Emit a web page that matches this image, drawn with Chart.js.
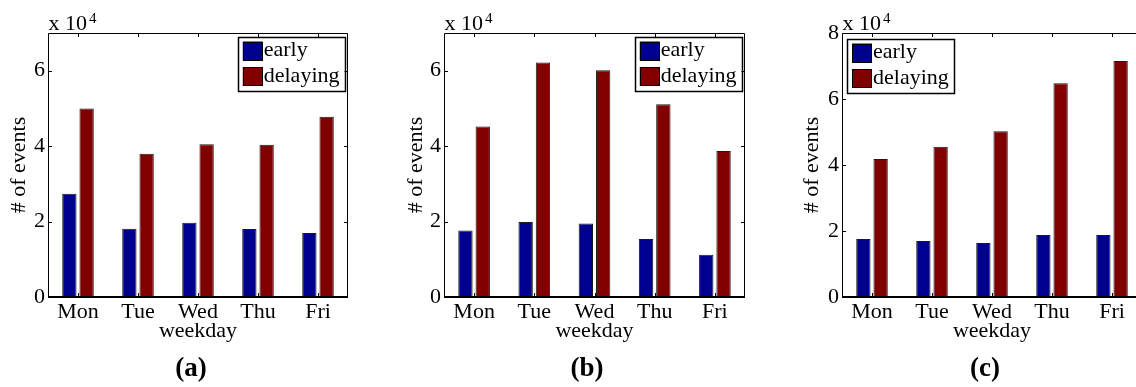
<!DOCTYPE html>
<html>
<head>
<meta charset="utf-8">
<script src="https://cdn.jsdelivr.net/npm/chart.js@4/dist/chart.umd.min.js"></script>
<style>
  html, body { margin: 0; padding: 0; background: #fff; }
  #wrap { position: relative; width: 1136px; height: 387px; overflow: hidden; }
  canvas { position: absolute; top: 0; }
  .cap { position: absolute; top: 352px; width: 100px; text-align: center;
         font: bold 27px 'Liberation Serif', 'Times New Roman', serif; line-height: 30px; }
</style>
</head>
<body>
<div id="wrap">
  <canvas id="chartA" width="380" height="387" style="left:0px"></canvas>
  <canvas id="chartB" width="380" height="387" style="left:380px"></canvas>
  <canvas id="chartC" width="400" height="387" style="left:756px"></canvas>
  <div class="cap" style="left:141px">(a)</div>
  <div class="cap" style="left:537px">(b)</div>
  <div class="cap" style="left:935px">(c)</div>
</div>
<script>
// weekday categories
const weekdays = ['Mon', 'Tue', 'Wed', 'Thu', 'Fri'];

// number of events per weekday
const earlyA = [27400, 18100, 19700, 18000, 17000];
const delayingA = [50000, 38000, 40500, 40400, 47800];
const earlyB = [17600, 19900, 19500, 15400, 11200];
const delayingB = [45200, 62200, 60100, 51100, 38700];
const earlyC = [17600, 17000, 16400, 18800, 18800];
const delayingC = [41800, 45500, 50200, 64800, 71500];

// y axis ticks (values), shown in units of 10^4
const yTicksAB = [0, 20000, 40000, 60000];
const yTicksC = [0, 20000, 40000, 60000, 80000];

const FONT = "'Liberation Serif', 'Times New Roman', serif";

// frame, inward ticks, exponent label and boxed legend like matlab
const matlabAxes = {
    id: 'matlabAxes',
    afterDraw(chart, args, opts) {
        const ctx = chart.ctx;
        const a = chart.chartArea;
        const xs = chart.scales.x;
        const ys = chart.scales.y;
        ctx.save();
        ctx.strokeStyle = '#000';
        ctx.lineWidth = 1;
        const L = Math.round(a.left) + 0.5;
        const T = Math.round(a.top) + 0.5;
        const R = Math.round(a.right) - 0.5;
        const B = Math.round(a.bottom);
        ctx.beginPath();
        ctx.moveTo(L, B);
        ctx.lineTo(L, T);
        ctx.lineTo(R, T);
        ctx.lineTo(R, B);
        ctx.stroke();
        ctx.lineWidth = 2;
        ctx.beginPath();
        ctx.moveTo(L - 0.5, B);
        ctx.lineTo(R + 0.5, B);
        ctx.stroke();

        // ticks pointing inside
        ctx.lineWidth = 1;
        ctx.beginPath();
        xs.ticks.forEach((t, i) => {
            const px = Math.round(xs.getPixelForTick(i)) + 0.5;
            ctx.moveTo(px, B);
            ctx.lineTo(px, B - 4);
            ctx.moveTo(px, T);
            ctx.lineTo(px, T + 3.5);
        });
        ys.ticks.forEach(t => {
            const py = Math.round(ys.getPixelForValue(t.value)) + 0.5;
            ctx.moveTo(L, py);
            ctx.lineTo(L + 3.5, py);
            ctx.moveTo(R, py);
            ctx.lineTo(R - 3.5, py);
        });
        ctx.stroke();

        // x 10^4
        ctx.fillStyle = '#000';
        ctx.textAlign = 'left';
        ctx.textBaseline = 'alphabetic';
        ctx.font = '22px ' + FONT;
        const base = 'x 10';
        ctx.fillText(base, a.left + 0.5, a.top - 3);
        const w = ctx.measureText(base).width;
        ctx.font = '15px ' + FONT;
        ctx.fillText('4', a.left + 0.5 + w + 2, a.top - 10.5);

        // legend
        ctx.font = '22px ' + FONT;
        const sets = chart.data.datasets;
        let textW = 0;
        sets.forEach(ds => { textW = Math.max(textW, ctx.measureText(ds.label).width); });
        const boxW = 5 + 20 + 1 + textW + 5;
        const boxH = 54;
        const bx = opts.corner === 'left' ? a.left + 5 : a.right - 3.5 - boxW;
        const by = a.top + opts.top;
        ctx.fillStyle = '#fff';
        ctx.fillRect(bx, by, boxW, boxH);
        ctx.lineWidth = 1.5;
        ctx.strokeRect(Math.round(bx) + 0.5, Math.round(by) + 0.5, Math.round(boxW), boxH);
        ctx.lineWidth = 1;
        sets.forEach((ds, i) => {
            const sy = by + 4.5 + i * 25.5;
            ctx.fillStyle = ds.backgroundColor;
            ctx.fillRect(bx + 5, sy, 20, 19);
            ctx.strokeStyle = '#000';
            ctx.strokeRect(Math.round(bx + 5) + 0.5, Math.round(sy) + 0.5, 19, 18);
            ctx.fillStyle = '#000';
            ctx.textBaseline = 'middle';
            ctx.fillText(ds.label, bx + 26, sy + 9);
        });
        ctx.restore();
    }
};

function makePanel(id, early, delaying, yMax, yTicks, axisW, padRight, titlePad, corner, legendTop) {
    const ctx = document.getElementById(id).getContext('2d');
    new Chart(ctx, {
        type: 'bar',
        data: {
            labels: weekdays,
            datasets: [{
                label: 'early',
                data: early,
                backgroundColor: '#00008f',
                borderColor: '#1a1a1a',
                borderWidth: 1,
                categoryPercentage: 0.575,
                barPercentage: 0.83
            }, {
                label: 'delaying',
                data: delaying,
                backgroundColor: '#800000',
                borderColor: '#1a1a1a',
                borderWidth: 1,
                categoryPercentage: 0.575,
                barPercentage: 0.83
            }]
        },
        options: {
            responsive: false,
            animation: false,
            devicePixelRatio: 1,
            layout: {
                padding: { left: 0, right: padRight, top: 33, bottom: 30 }
            },
            plugins: {
                legend: { display: false },
                tooltip: { enabled: false },
                matlabAxes: { corner: corner, top: legendTop }
            },
            scales: {
                x: {
                    grid: { display: false, drawTicks: false },
                    border: { display: false },
                    ticks: {
                        color: '#000',
                        padding: 2,
                        maxRotation: 0,
                        font: { family: FONT, size: 22 }
                    },
                    title: {
                        display: true,
                        text: 'weekday',
                        color: '#000',
                        padding: { top: 0, bottom: 13 },
                        font: { family: FONT, size: 22 }
                    },
                    afterFit: function (scale) {
                        scale.height = 60;
                    }
                },
                y: {
                    min: 0,
                    max: yMax,
                    grid: { display: false, drawTicks: false },
                    border: { display: false },
                    afterBuildTicks: function (scale) {
                        scale.ticks = yTicks.map(v => ({ value: v }));
                    },
                    ticks: {
                        color: '#000',
                        padding: 3,
                        font: { family: FONT, size: 22 },
                        callback: function (value) {
                            return value / 10000;
                        }
                    },
                    title: {
                        display: true,
                        text: '# of events',
                        color: '#000',
                        padding: { top: titlePad, bottom: 0 },
                        font: { family: FONT, size: 22 }
                    },
                    afterFit: function (scale) {
                        scale.width = axisW;
                    }
                }
            }
        },
        plugins: [matlabAxes]
    });
}

makePanel('chartA', earlyA, delayingA, 70000, yTicksAB, 48, 32, 5.6, 'right', 4);
makePanel('chartB', earlyB, delayingB, 70000, yTicksAB, 64, 15, 22.8, 'right', 4);
makePanel('chartC', earlyC, delayingC, 80000, yTicksC, 86, 14, 42.6, 'left', 6);
</script>
</body>
</html>
